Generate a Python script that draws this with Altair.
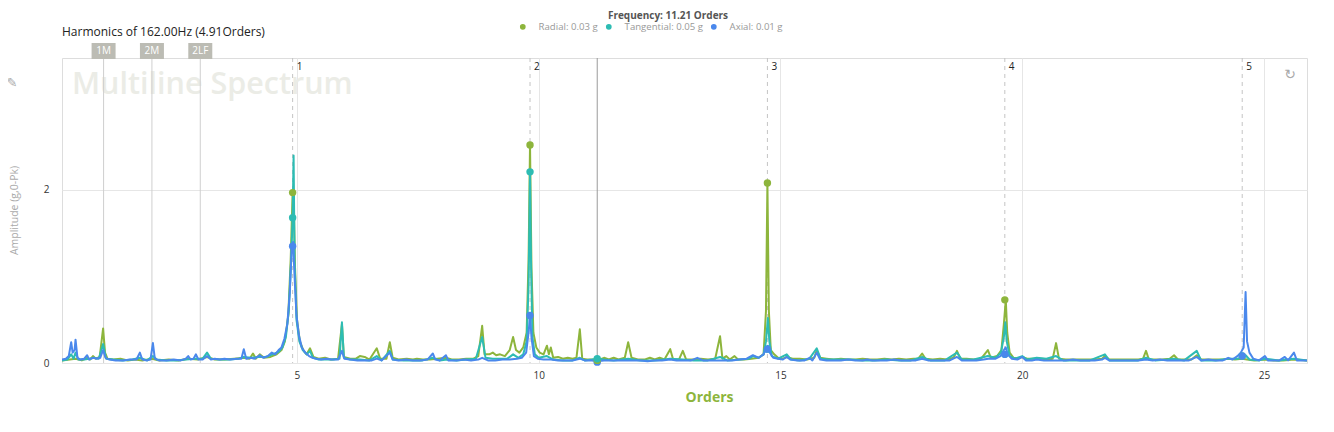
import altair as alt
import pandas as pd

# ---------------- data ----------------
SERIES = ["Radial", "Tangential", "Axial"]
COLORS = ["#8db53c", "#2dbcb3", "#4a88ec"]

CURSOR_ORDER = 11.21
CURSOR_VALUES = [0.03, 0.05, 0.01]

HARMONIC_ORDERS = [4.91, 9.82, 14.73, 19.64, 24.55]
HARMONIC_LABELS = ["1", "2", "3", "4", "5"]
RADIAL_AT_H = [1.97, 2.52, 2.08, 0.73]
TANGENTIAL_AT_H = [1.68, 2.21, 0.16, 0.10, 0.08]
AXIAL_AT_H = [1.35, 0.55, 0.16, 0.10, 0.08]

MARKER_ORDERS = [1.0, 2.0, 3.0]
MARKER_LABELS = ["1M", "2M", "2LF"]

X_TICKS = [5, 10, 15, 20, 25]
Y_TICKS = [0, 2]

RADIAL = [
    (0.14, 0.03), (0.30, 0.04), (0.42, 0.05), (0.55, 0.03), (0.66, 0.06), (0.72, 0.04), (0.78, 0.08),
    (0.84, 0.05), (0.92, 0.07), (0.99, 0.40), (1.03, 0.12), (1.08, 0.05), (1.20, 0.04), (1.35, 0.05),
    (1.50, 0.03), (1.65, 0.04), (1.80, 0.03), (2.00, 0.05), (2.15, 0.03), (2.35, 0.04), (2.55, 0.03),
    (2.75, 0.05), (2.95, 0.04), (3.14, 0.07), (3.30, 0.04), (3.50, 0.04), (3.70, 0.05), (3.90, 0.06),
    (4.02, 0.05), (4.09, 0.11), (4.15, 0.05), (4.23, 0.10), (4.32, 0.06), (4.45, 0.07), (4.58, 0.10),
    (4.68, 0.15), (4.75, 0.25), (4.82, 0.55), (4.87, 1.20), (4.91, 1.97), (4.93, 2.00), (4.96, 1.10),
    (5.00, 0.50), (5.06, 0.25), (5.13, 0.15), (5.20, 0.10), (5.27, 0.17), (5.34, 0.07), (5.45, 0.05),
    (5.58, 0.06), (5.70, 0.04), (5.85, 0.05), (5.93, 0.45), (5.97, 0.07), (6.10, 0.05), (6.22, 0.05),
    (6.30, 0.08), (6.40, 0.07), (6.50, 0.04), (6.65, 0.17), (6.72, 0.05), (6.85, 0.05), (6.92, 0.24),
    (6.98, 0.06), (7.10, 0.04), (7.27, 0.05), (7.40, 0.04), (7.48, 0.05), (7.60, 0.04), (7.75, 0.04),
    (7.90, 0.05), (8.08, 0.06), (8.20, 0.04), (8.35, 0.04), (8.50, 0.05), (8.65, 0.05), (8.75, 0.08),
    (8.83, 0.43), (8.88, 0.10), (8.98, 0.10), (9.05, 0.12), (9.12, 0.09), (9.20, 0.10), (9.30, 0.08),
    (9.40, 0.15), (9.47, 0.30), (9.53, 0.15), (9.60, 0.12), (9.68, 0.18), (9.75, 0.35), (9.79, 1.20),
    (9.82, 2.52), (9.85, 1.10), (9.89, 0.35), (9.95, 0.18), (10.02, 0.12), (10.10, 0.10), (10.17, 0.20),
    (10.21, 0.10), (10.25, 0.18), (10.30, 0.06), (10.40, 0.07), (10.50, 0.05), (10.60, 0.06), (10.70, 0.05),
    (10.78, 0.06), (10.85, 0.39), (10.90, 0.05), (11.00, 0.04), (11.10, 0.04), (11.21, 0.03), (11.35, 0.06),
    (11.45, 0.04), (11.55, 0.06), (11.65, 0.04), (11.78, 0.06), (11.85, 0.24), (11.92, 0.06), (12.05, 0.04),
    (12.20, 0.04), (12.30, 0.06), (12.40, 0.04), (12.50, 0.06), (12.60, 0.04), (12.72, 0.16), (12.78, 0.04),
    (12.90, 0.04), (12.98, 0.14), (13.05, 0.04), (13.20, 0.04), (13.35, 0.05), (13.50, 0.04), (13.65, 0.05),
    (13.75, 0.31), (13.80, 0.05), (13.88, 0.08), (13.95, 0.04), (14.05, 0.08), (14.12, 0.04), (14.25, 0.04),
    (14.40, 0.05), (14.55, 0.06), (14.65, 0.10), (14.70, 0.60), (14.73, 2.08), (14.76, 0.60), (14.80, 0.15),
    (14.87, 0.10), (14.95, 0.06), (15.05, 0.05), (15.13, 0.07), (15.25, 0.05), (15.40, 0.05), (15.55, 0.04),
    (15.70, 0.06), (15.75, 0.15), (15.82, 0.06), (15.95, 0.05), (16.10, 0.04), (16.25, 0.05), (16.40, 0.04),
    (16.55, 0.04), (16.70, 0.05), (16.85, 0.04), (17.00, 0.04), (17.15, 0.05), (17.30, 0.04), (17.45, 0.05),
    (17.60, 0.04), (17.75, 0.05), (17.85, 0.05), (17.93, 0.11), (18.00, 0.05), (18.15, 0.04), (18.30, 0.05),
    (18.45, 0.04), (18.58, 0.06), (18.65, 0.14), (18.72, 0.05), (18.85, 0.05), (19.00, 0.04), (19.15, 0.05),
    (19.29, 0.15), (19.35, 0.06), (19.48, 0.08), (19.57, 0.15), (19.62, 0.45), (19.66, 0.73), (19.69, 0.35),
    (19.74, 0.12), (19.82, 0.06), (19.92, 0.05), (20.00, 0.07), (20.10, 0.05), (20.25, 0.05), (20.40, 0.05),
    (20.55, 0.04), (20.63, 0.05), (20.70, 0.23), (20.76, 0.05), (20.90, 0.04), (21.05, 0.04), (21.20, 0.04),
    (21.35, 0.04), (21.50, 0.04), (21.65, 0.05), (21.71, 0.08), (21.80, 0.04), (21.95, 0.04), (22.10, 0.04),
    (22.25, 0.04), (22.40, 0.04), (22.50, 0.05), (22.56, 0.14), (22.62, 0.04), (22.75, 0.04), (22.90, 0.04),
    (23.05, 0.05), (23.14, 0.09), (23.22, 0.04), (23.35, 0.04), (23.50, 0.04), (23.61, 0.09), (23.70, 0.04),
    (23.85, 0.04), (24.00, 0.04), (24.15, 0.04), (24.26, 0.05), (24.40, 0.04), (24.55, 0.05), (24.65, 0.04),
    (24.80, 0.03), (25.00, 0.04), (25.20, 0.03), (25.40, 0.03), (25.62, 0.04), (25.89, 0.03),
]

TANGENTIAL = [
    (0.14, 0.03), (0.25, 0.04), (0.33, 0.10), (0.38, 0.05), (0.42, 0.12), (0.48, 0.04), (0.60, 0.04),
    (0.70, 0.05), (0.80, 0.06), (0.90, 0.05), (0.99, 0.22), (1.05, 0.05), (1.20, 0.04), (1.40, 0.03),
    (1.60, 0.04), (1.75, 0.06), (1.90, 0.03), (2.02, 0.08), (2.10, 0.04), (2.30, 0.03), (2.50, 0.03),
    (2.70, 0.04), (2.90, 0.05), (3.05, 0.05), (3.14, 0.12), (3.22, 0.05), (3.40, 0.04), (3.60, 0.04),
    (3.80, 0.05), (3.90, 0.07), (4.05, 0.06), (4.20, 0.07), (4.35, 0.07), (4.50, 0.10), (4.62, 0.13),
    (4.70, 0.18), (4.77, 0.30), (4.83, 0.60), (4.88, 1.20), (4.91, 1.68), (4.93, 2.40), (4.95, 1.20),
    (4.99, 0.50), (5.05, 0.25), (5.12, 0.15), (5.20, 0.10), (5.27, 0.14), (5.33, 0.06), (5.45, 0.04),
    (5.60, 0.04), (5.75, 0.04), (5.88, 0.05), (5.93, 0.47), (5.97, 0.06), (6.10, 0.04), (6.30, 0.04),
    (6.50, 0.03), (6.65, 0.08), (6.75, 0.03), (6.92, 0.14), (6.98, 0.04), (7.20, 0.03), (7.40, 0.03),
    (7.60, 0.03), (7.81, 0.06), (7.95, 0.03), (8.10, 0.04), (8.30, 0.03), (8.50, 0.04), (8.70, 0.05),
    (8.83, 0.30), (8.90, 0.06), (9.05, 0.05), (9.20, 0.05), (9.35, 0.05), (9.47, 0.10), (9.58, 0.06),
    (9.68, 0.10), (9.75, 0.25), (9.79, 0.90), (9.82, 2.21), (9.84, 1.20), (9.87, 0.30), (9.92, 0.10),
    (10.00, 0.06), (10.17, 0.08), (10.30, 0.04), (10.50, 0.03), (10.70, 0.03), (10.85, 0.06), (10.95, 0.03),
    (11.10, 0.04), (11.21, 0.05), (11.35, 0.04), (11.55, 0.03), (11.85, 0.05), (12.10, 0.03), (12.40, 0.03),
    (12.72, 0.05), (12.98, 0.04), (13.20, 0.03), (13.50, 0.03), (13.75, 0.07), (13.90, 0.03), (14.15, 0.04),
    (14.35, 0.05), (14.43, 0.08), (14.55, 0.06), (14.65, 0.10), (14.70, 0.25), (14.74, 0.52), (14.77, 0.25),
    (14.82, 0.08), (14.95, 0.05), (15.13, 0.10), (15.22, 0.04), (15.40, 0.03), (15.60, 0.05), (15.75, 0.17),
    (15.83, 0.05), (16.00, 0.04), (16.20, 0.04), (16.45, 0.04), (16.70, 0.03), (16.95, 0.03), (17.20, 0.04),
    (17.45, 0.03), (17.70, 0.03), (17.93, 0.07), (18.10, 0.03), (18.40, 0.03), (18.65, 0.12), (18.75, 0.04),
    (19.00, 0.04), (19.29, 0.08), (19.45, 0.06), (19.56, 0.12), (19.62, 0.30), (19.65, 0.47), (19.68, 0.25),
    (19.74, 0.08), (19.85, 0.05), (20.00, 0.08), (20.10, 0.04), (20.30, 0.06), (20.50, 0.05), (20.70, 0.08),
    (20.85, 0.03), (21.10, 0.03), (21.40, 0.03), (21.71, 0.10), (21.80, 0.03), (22.10, 0.03), (22.40, 0.03),
    (22.56, 0.06), (22.75, 0.03), (23.00, 0.04), (23.14, 0.05), (23.35, 0.03), (23.61, 0.14), (23.70, 0.03),
    (24.00, 0.03), (24.26, 0.05), (24.45, 0.05), (24.55, 0.06), (24.62, 0.09), (24.70, 0.04), (24.90, 0.03),
    (25.02, 0.05), (25.30, 0.03), (25.62, 0.05), (25.89, 0.03),
]

AXIAL = [
    (0.14, 0.04), (0.22, 0.05), (0.28, 0.08), (0.33, 0.24), (0.36, 0.12), (0.40, 0.15), (0.42, 0.27),
    (0.46, 0.06), (0.52, 0.04), (0.60, 0.05), (0.66, 0.09), (0.70, 0.04), (0.78, 0.06), (0.86, 0.05),
    (0.93, 0.06), (0.99, 0.15), (1.04, 0.06), (1.12, 0.04), (1.25, 0.03), (1.40, 0.03), (1.55, 0.04),
    (1.68, 0.04), (1.75, 0.12), (1.80, 0.04), (1.90, 0.03), (1.97, 0.04), (2.02, 0.23), (2.06, 0.05),
    (2.15, 0.03), (2.30, 0.03), (2.45, 0.04), (2.60, 0.03), (2.70, 0.05), (2.75, 0.08), (2.80, 0.04),
    (2.86, 0.05), (2.91, 0.10), (2.96, 0.04), (3.05, 0.04), (3.14, 0.08), (3.22, 0.04), (3.30, 0.05),
    (3.40, 0.04), (3.50, 0.05), (3.62, 0.04), (3.75, 0.05), (3.85, 0.05), (3.90, 0.16), (3.95, 0.05),
    (4.05, 0.06), (4.12, 0.05), (4.23, 0.09), (4.30, 0.06), (4.40, 0.08), (4.48, 0.12), (4.55, 0.10),
    (4.62, 0.15), (4.68, 0.18), (4.74, 0.28), (4.80, 0.45), (4.85, 0.80), (4.89, 1.30), (4.92, 1.40),
    (4.95, 1.00), (4.99, 0.55), (5.04, 0.32), (5.10, 0.18), (5.17, 0.12), (5.25, 0.08), (5.32, 0.06),
    (5.40, 0.05), (5.50, 0.04), (5.60, 0.05), (5.72, 0.04), (5.85, 0.04), (5.93, 0.14), (5.98, 0.05),
    (6.10, 0.04), (6.25, 0.03), (6.40, 0.03), (6.55, 0.03), (6.65, 0.05), (6.75, 0.03), (6.92, 0.12),
    (6.98, 0.04), (7.10, 0.03), (7.25, 0.04), (7.40, 0.03), (7.55, 0.03), (7.70, 0.04), (7.81, 0.11),
    (7.86, 0.04), (7.95, 0.03), (8.08, 0.09), (8.13, 0.03), (8.30, 0.03), (8.45, 0.04), (8.60, 0.03),
    (8.75, 0.04), (8.83, 0.06), (8.95, 0.03), (9.10, 0.03), (9.25, 0.04), (9.40, 0.04), (9.55, 0.05),
    (9.65, 0.06), (9.74, 0.12), (9.79, 0.35), (9.82, 0.55), (9.85, 0.30), (9.90, 0.08), (9.98, 0.05),
    (10.10, 0.04), (10.25, 0.04), (10.40, 0.03), (10.55, 0.03), (10.70, 0.03), (10.85, 0.05), (10.95, 0.03),
    (11.10, 0.03), (11.21, 0.02), (11.35, 0.03), (11.50, 0.03), (11.65, 0.03), (11.80, 0.03), (11.95, 0.03),
    (12.10, 0.03), (12.25, 0.02), (12.40, 0.03), (12.55, 0.03), (12.72, 0.04), (12.85, 0.03), (13.00, 0.03),
    (13.15, 0.03), (13.28, 0.06), (13.40, 0.03), (13.55, 0.03), (13.70, 0.03), (13.85, 0.03), (14.00, 0.03),
    (14.15, 0.04), (14.30, 0.05), (14.43, 0.09), (14.55, 0.06), (14.65, 0.10), (14.70, 0.18), (14.74, 0.20),
    (14.78, 0.12), (14.85, 0.06), (14.95, 0.05), (15.05, 0.04), (15.13, 0.07), (15.20, 0.04), (15.35, 0.03),
    (15.50, 0.03), (15.60, 0.06), (15.66, 0.03), (15.75, 0.12), (15.82, 0.04), (15.95, 0.03), (16.10, 0.03),
    (16.25, 0.03), (16.40, 0.04), (16.55, 0.03), (16.70, 0.03), (16.79, 0.04), (16.90, 0.03), (17.05, 0.03),
    (17.20, 0.03), (17.35, 0.04), (17.50, 0.03), (17.65, 0.03), (17.80, 0.03), (17.93, 0.05), (18.05, 0.03),
    (18.20, 0.03), (18.35, 0.03), (18.50, 0.03), (18.65, 0.07), (18.75, 0.03), (18.90, 0.03), (19.05, 0.03),
    (19.20, 0.04), (19.30, 0.05), (19.45, 0.05), (19.55, 0.08), (19.62, 0.15), (19.66, 0.18), (19.70, 0.10),
    (19.78, 0.05), (19.90, 0.04), (20.00, 0.07), (20.08, 0.03), (20.20, 0.03), (20.30, 0.04), (20.45, 0.03),
    (20.60, 0.03), (20.75, 0.03), (20.90, 0.03), (21.05, 0.04), (21.20, 0.03), (21.35, 0.03), (21.50, 0.03),
    (21.65, 0.04), (21.71, 0.06), (21.80, 0.03), (21.95, 0.03), (22.10, 0.03), (22.25, 0.03), (22.40, 0.03),
    (22.56, 0.04), (22.70, 0.03), (22.85, 0.04), (23.00, 0.03), (23.15, 0.03), (23.30, 0.03), (23.45, 0.03),
    (23.61, 0.07), (23.70, 0.03), (23.85, 0.04), (24.00, 0.03), (24.15, 0.03), (24.26, 0.06), (24.35, 0.04),
    (24.45, 0.08), (24.52, 0.12), (24.58, 0.18), (24.62, 0.82), (24.65, 0.25), (24.70, 0.12), (24.78, 0.05),
    (24.90, 0.03), (25.02, 0.08), (25.08, 0.03), (25.20, 0.03), (25.32, 0.03), (25.43, 0.07), (25.50, 0.03),
    (25.62, 0.12), (25.68, 0.03), (25.80, 0.03), (25.89, 0.03),
]

TITLE = "Harmonics of 162.00Hz (4.91Orders)"
FREQ_TEXT = "Frequency: 11.21 Orders"
WATERMARK = "Multiline Spectrum"
X_DOMAIN = [0.14, 25.89]
Y_DOMAIN = [0, 3.526]

# ---------------- tables built from the arrays ----------------
rows = []
for name, pts in zip(SERIES, [RADIAL, TANGENTIAL, AXIAL]):
    for o, a in pts:
        rows.append({"series": name, "order": o, "amp": a})
lines_df = pd.DataFrame(rows)

dot_rows = []
for name, vals in zip(SERIES, [RADIAL_AT_H, TANGENTIAL_AT_H, AXIAL_AT_H]):
    for o, a in zip(HARMONIC_ORDERS, vals):
        dot_rows.append({"series": name, "order": o, "amp": a})
dots_df = pd.DataFrame(dot_rows)

cursor_dots_df = pd.DataFrame(
    [{"series": s, "order": CURSOR_ORDER, "amp": v} for s, v in zip(SERIES, CURSOR_VALUES)]
)

harm_df = pd.DataFrame({"order": HARMONIC_ORDERS, "label": HARMONIC_LABELS})
mark_df = pd.DataFrame({"order": MARKER_ORDERS, "label": MARKER_LABELS})
cursor_df = pd.DataFrame({"order": [CURSOR_ORDER]})

label_map = {s: f"{s}: {v:.2f} g" for s, v in zip(SERIES, CURSOR_VALUES)}
label_expr = " : ".join(
    [f"datum.label == '{k}' ? '{v}'" for k, v in label_map.items()]
) + " : datum.label"

FONT = "Open Sans"

x_enc = alt.X(
    "order:Q",
    scale=alt.Scale(domain=X_DOMAIN, nice=False, zero=False),
    axis=alt.Axis(
        values=X_TICKS, title="Orders", grid=True, gridColor="#e6e6e6", ticks=False,
        domain=False, labelFontSize=10, labelColor="#333", labelPadding=7,
        titleColor="#8db53c", titleFontSize=14, titleFontWeight="bold",
        titleX=647, titleY=34, titleBaseline="middle", titleAlign="center",
    ),
)
y_enc = alt.Y(
    "amp:Q",
    scale=alt.Scale(domain=Y_DOMAIN, nice=False),
    axis=alt.Axis(
        values=Y_TICKS, title="Amplitude (g,0-Pk)", grid=True, gridColor="#e6e6e6",
        ticks=False, domain=False, labelFontSize=10, labelColor="#333", labelPadding=13,
        titleColor="#aaaaaa", titleFontSize=10.5, titleFontWeight="normal",
        titleX=-48, titleY=152, titleAngle=-90, titleBaseline="middle", titleAlign="center",
    ),
)
color_enc = alt.Color(
    "series:N",
    scale=alt.Scale(domain=SERIES, range=COLORS),
    legend=alt.Legend(
        title=None, orient="none", direction="horizontal", legendX=456, legendY=-36,
        symbolType="circle", symbolSize=18, labelFontSize=9.6, labelColor="#999",
        labelFont=FONT, columnPadding=5, labelOffset=11, labelExpr=label_expr,
    ),
)

watermark = alt.Chart(pd.DataFrame({"t": [WATERMARK]})).mark_text(
    align="left", baseline="alphabetic", fontSize=30.5, fontWeight=600, font=FONT, color="#ebece6"
).encode(x=alt.value(10), y=alt.value(36), text="t:N")

marker_rules = alt.Chart(mark_df).mark_rule(color="#cfcfcf", strokeWidth=1).encode(x=x_enc)
harm_rules = alt.Chart(harm_df).mark_rule(color="#c4c4c4", strokeWidth=1, strokeDash=[4, 4]).encode(x=x_enc)
cursor_rule = alt.Chart(cursor_df).mark_rule(color="#9a9a9a", strokeWidth=1).encode(x=x_enc)

line_layers = []
for name in SERIES:
    line_layers.append(
        alt.Chart(lines_df).transform_filter(alt.datum.series == name)
        .mark_line(strokeWidth=2, strokeJoin="round", clip=True)
        .encode(x=x_enc, y=y_enc, color=color_enc)
    )

dot_layers = []
for name in SERIES:
    dot_layers.append(
        alt.Chart(dots_df).transform_filter(alt.datum.series == name)
        .mark_circle(size=55, opacity=1)
        .encode(x=x_enc, y=y_enc, color=color_enc)
    )
cursor_layers = []
for name in ["Axial", "Radial", "Tangential"]:
    cursor_layers.append(
        alt.Chart(cursor_dots_df).transform_filter(alt.datum.series == name)
        .mark_circle(size=55, opacity=1)
        .encode(x=x_enc, y=y_enc, color=color_enc)
    )

harm_text = alt.Chart(harm_df).mark_text(
    align="left", baseline="middle", dx=4, fontSize=10, font=FONT, color="#222"
).encode(x=x_enc, y=alt.value(9), text="label:N")

box_path = "M-1.5,-1L1.5,-1L1.5,1L-1.5,1Z"
marker_boxes = alt.Chart(mark_df).mark_point(
    shape=box_path, filled=True, size=256, color="#bcbcb4", opacity=1
).encode(x=x_enc, y=alt.value(-7))
marker_text = alt.Chart(mark_df).mark_text(
    align="center", baseline="middle", fontSize=10, font=FONT, color="white"
).encode(x=x_enc, y=alt.value(-7), text="label:N")

title_text = alt.Chart(pd.DataFrame({"t": [TITLE]})).mark_text(
    align="left", baseline="middle", fontSize=12, font=FONT, color="#222"
).encode(x=alt.value(0), y=alt.value(-26), text="t:N")

freq_text = alt.Chart(pd.DataFrame({"t": [FREQ_TEXT]})).mark_text(
    align="center", baseline="middle", fontSize=10, fontWeight="bold", font=FONT, color="#555"
).encode(x=alt.value(606), y=alt.value(-42), text="t:N")

pencil = alt.Chart(pd.DataFrame({"t": ["\u270E"]})).mark_text(
    align="center", baseline="middle", fontSize=13, font="DejaVu Sans", color="#aaa"
).encode(x=alt.value(-50), y=alt.value(25), text="t:N")
refresh = alt.Chart(pd.DataFrame({"t": ["\u21BB"]})).mark_text(
    align="center", baseline="middle", fontSize=14, font="DejaVu Sans", color="#aaa"
).encode(x=alt.value(1228), y=alt.value(17), text="t:N")

chart = alt.layer(
    watermark, marker_rules, harm_rules, cursor_rule,
    *line_layers, *dot_layers, *cursor_layers,
    harm_text, marker_boxes, marker_text, title_text, freq_text, pencil, refresh,
).properties(
    width=1245, height=305,
    autosize=alt.AutoSizeParams(type="none"),
    padding={"left": 54, "top": 50, "right": 19, "bottom": 56},
).configure_view(
    stroke="#e6e6e6"
).configure(
    font=FONT
)

chart.save("out.html", embed_options={"renderer": "svg", "actions": False})
